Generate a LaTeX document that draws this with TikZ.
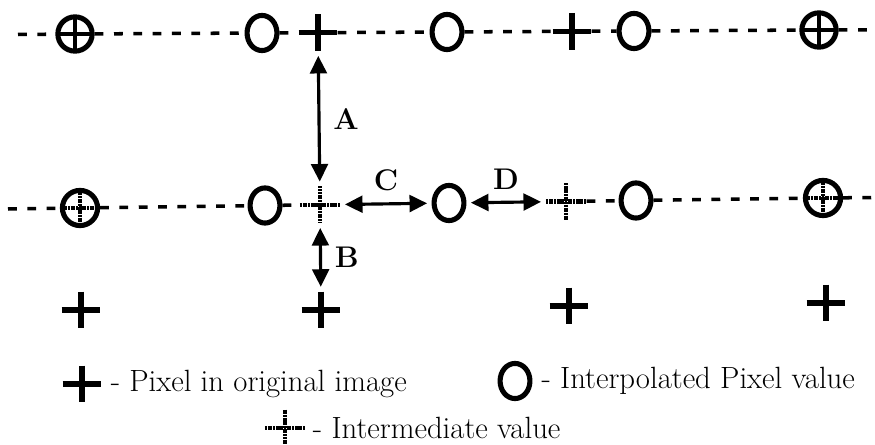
\documentclass[tikz,border=0pt]{standalone}
\usetikzlibrary{positioning, arrows.meta, shapes.geometric}
\tikzset{
  pixel/.style={
    rectangle, inner sep=0pt, minimum width=22pt, minimum height=21pt,
    path picture={\draw[line width=3pt]
      (path picture bounding box.north) -- (path picture bounding box.south)
      (path picture bounding box.west) -- (path picture bounding box.east);}
  },
  interp/.style={
    ellipse, draw, line width=2.9pt, fill=white, inner sep=0pt,
    minimum width=17pt, minimum height=20pt
  },
  both/.style={
    circle, draw, line width=2.9pt, fill=white, inner sep=0pt, minimum size=19.5pt,
    path picture={\draw[line width=2.6pt]
      (path picture bounding box.north) -- (path picture bounding box.south)
      (path picture bounding box.west) -- (path picture bounding box.east);}
  },
  interm/.style={
    rectangle, inner sep=0pt, minimum width=23pt, minimum height=21pt,
    path picture={\draw[line width=2.4pt, dash pattern=on 1.2pt off 0.35pt]
      (path picture bounding box.north) -- (path picture bounding box.south)
      (path picture bounding box.west) -- (path picture bounding box.east);}
  },
  intboth/.style={
    circle, draw, line width=2.9pt, fill=white, inner sep=0pt, minimum size=20pt,
    path picture={\draw[line width=2.2pt, dash pattern=on 1.2pt off 0.35pt]
      (path picture bounding box.north) -- (path picture bounding box.south)
      (path picture bounding box.west) -- (path picture bounding box.east);}
  },
  rowline/.style={line width=2pt, dash pattern=on 5pt off 6pt},
  dimarrow/.style={
    {Triangle[length=10pt,width=9.5pt]}-{Triangle[length=10pt,width=9.5pt]},
    line width=1.8pt, shorten <=2.5pt, shorten >=2.5pt
  },
  lbl/.style={font=\fontsize{17}{20}\selectfont\bfseries},
  legend/.style={font=\fontsize{17.5}{21}\selectfont, inner sep=0pt},
}
\begin{document}
\begin{tikzpicture}[x=0.02cm, y=-0.02cm]
  \useasboundingbox (0,0) rectangle (875,445);

  % top row
  \coordinate (TS) at (18,34.5);
  \coordinate (TE) at (875,29.8);
  \node[both]   (T1) at (75,34) {};
  \node[interp] (T2) at (262,33) {};
  \node[pixel]  (T3) at (318,32.7) {};
  \node[interp] (T4) at (447,32) {};
  \node[pixel]  (T5) at (572,31.3) {};
  \node[interp] (T6) at (634,31) {};
  \node[both]   (T7) at (819,30) {};
  \draw[rowline] (TS) -- (T1) -- (T2) -- (T3) -- (T4) -- (T5) -- (T6) -- (T7) -- (TE);

  % middle row
  \coordinate (MS) at (8,209);
  \coordinate (ME) at (875,197.5);
  \node[intboth] (M1) at (80,208) {};
  \node[interp]  (M2) at (265,205.5) {};
  \node[interm]  (M3) at (320,204.8) {};
  \node[interp]  (M4) at (449,203) {};
  \node[interm]  (M5) at (566,201.5) {};
  \node[interp]  (M6) at (636,200.5) {};
  \node[intboth] (M7) at (823,198) {};
  \draw[rowline] (MS) -- (M1) -- (M2) -- (M3);
  \draw[rowline] (M5) -- (M6) -- (M7) -- (ME);

  % bottom row
  \node[pixel] (B1) at (81,310) {};
  \node[pixel] (B2) at (321,310) {};
  \node[pixel] (B3) at (569,306) {};
  \node[pixel] (B4) at (826,303) {};

  % distances
  \draw[dimarrow] (T3) -- (M3) node[lbl, midway, right=4pt] {A};
  \draw[dimarrow] (M3) -- (B2) node[lbl, midway, right=4pt] {B};
  \draw[dimarrow] (M3) -- (M4) node[lbl, midway, above=3pt] {C};
  \draw[dimarrow] (M4) -- (M5) node[lbl, midway, above=3pt] {D};

  % legend
  \node[pixel]  (K1) at (82,384) {};
  \node[legend, right=5pt of K1] {- Pixel in original image};
  \node[interp] (K2) at (515,381) {};
  \node[legend, right=5pt of K2] {- Interpolated Pixel value};
  \node[interm] (K3) at (285,428) {};
  \node[legend, right=4pt of K3] {- Intermediate value};
\end{tikzpicture}
\end{document}
